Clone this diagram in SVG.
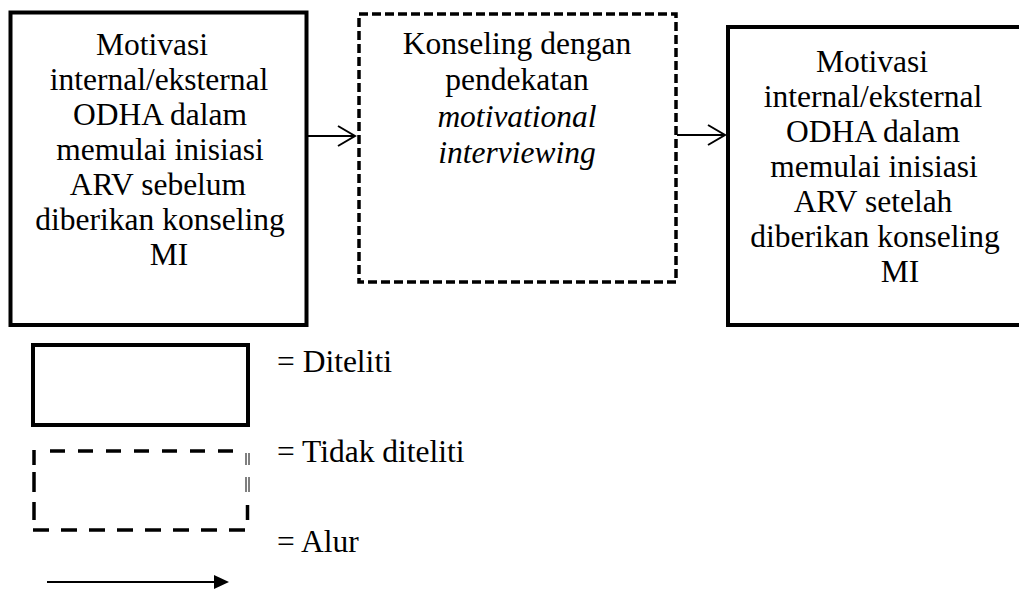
<svg xmlns="http://www.w3.org/2000/svg" width="1019" height="590" viewBox="0 0 1019 590">
<style>
text{font-family:"Liberation Serif","Times New Roman",serif;font-size:31.5px;fill:#000}
.c{text-anchor:middle}
.box{fill:none;stroke:#000;stroke-width:4}
.dbox{fill:none;stroke:#000;stroke-width:3.5;stroke-dasharray:9 4}
.conn{fill:none;stroke:#000;stroke-width:2}
.leg{stroke:#000;stroke-width:3.5;fill:none}
.thin{stroke:#000;stroke-width:1;fill:none}
</style>
<rect width="1019" height="590" fill="#fff"/>
<g id="node-before">
<rect class="box" x="10.5" y="12.5" width="296" height="312.5"/>
<text class="c" x="152" y="55">Motivasi</text>
<text class="c" x="159" y="90">internal/eksternal</text>
<text class="c" x="160" y="125">ODHA dalam</text>
<text class="c" x="160" y="160">memulai inisiasi</text>
<text class="c" x="158" y="195">ARV sebelum</text>
<text class="c" x="160" y="230">diberikan konseling</text>
<text class="c" x="169" y="265">MI</text>
</g>
<g id="node-counseling">
<rect class="dbox" x="359" y="14" width="317" height="268"/>
<text class="c" x="517" y="54">Konseling dengan</text>
<text class="c" x="517" y="90">pendekatan</text>
<text class="c" x="517" y="127" font-style="italic">motivational</text>
<text class="c" x="517" y="163" font-style="italic">interviewing</text>
</g>
<g id="node-after">
<rect class="box" x="728" y="27" width="300" height="298"/>
<text class="c" x="872" y="72">Motivasi</text>
<text class="c" x="873" y="107">internal/eksternal</text>
<text class="c" x="873" y="142">ODHA dalam</text>
<text class="c" x="874" y="177">memulai inisiasi</text>
<text class="c" x="873" y="212">ARV setelah</text>
<text class="c" x="875" y="247">diberikan konseling</text>
<text class="c" x="900" y="282">MI</text>
</g>
<g id="connectors">
<line class="conn" x1="307" y1="136" x2="355" y2="136"/>
<polyline class="conn" points="338,126 355,136 338,146"/>
<line class="conn" x1="677" y1="135" x2="725" y2="135"/>
<polyline class="conn" points="708,125 725,135 708,145"/>
</g>
<g id="legend">
<rect class="box" x="33" y="345" width="215" height="80"/>
<text x="277" y="372">= Diteliti</text>
<line class="leg" x1="50" y1="451" x2="235" y2="451" stroke-dasharray="15 13"/>
<line class="leg" x1="34" y1="450" x2="34" y2="465"/>
<line class="leg" x1="34" y1="472" x2="34" y2="492"/>
<line class="leg" x1="34" y1="502" x2="34" y2="520"/>
<line class="leg" x1="33" y1="530" x2="246" y2="530" stroke-dasharray="16 12"/>
<line class="thin" x1="246" y1="453" x2="246" y2="465"/>
<line class="thin" x1="249" y1="453" x2="249" y2="465"/>
<line class="thin" x1="246" y1="477" x2="246" y2="492"/>
<line class="thin" x1="249" y1="477" x2="249" y2="492"/>
<line class="leg" x1="247.5" y1="505" x2="247.5" y2="520"/>
<text x="277" y="462">= Tidak diteliti</text>
<text x="277" y="552">= Alur</text>
<line class="conn" x1="47" y1="582" x2="216" y2="582"/>
<polygon points="214,575 229,582 214,589" fill="#000"/>
</g>
</svg>
